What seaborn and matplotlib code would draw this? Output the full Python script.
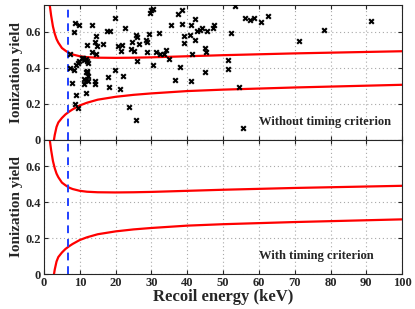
import numpy as np
import pandas as pd
import matplotlib
matplotlib.use('Agg')
import matplotlib.pyplot as plt
import seaborn as sns

# events (recoil energy keV, ionization yield) - top panel only
ev_energy = [8.65, 9.9, 8.4, 13.5, 19.8, 22.6, 14.6, 14.3, 12.1, 14.8, 16.4, 17.7, 18.3,
             13.4, 14.5, 7.4, 7.3, 8.5, 7.8, 8.8, 9.4, 9.7, 10.5, 11.0, 11.3, 11.7, 12.1,
             12.3, 11.9, 11.6, 12.1, 12.2, 11.2, 11.8, 12.2, 11.2, 14.2, 14.3, 8.9, 11.8,
             8.6, 9.5, 17.8, 18.1, 19.7, 21.2, 22.2, 20.8, 21.4, 21.8, 23.8, 25.8, 24.4,
             25.2, 24.7, 25.7, 25.9, 26.5, 25.9, 28.4, 28.7, 29.2, 28.7, 30.3, 29.6, 30.0,
             30.3, 32.2, 31.4, 32.3, 33.4, 34.1, 34.9, 35.4, 36.6, 38.1, 37.5, 38.4, 38.6,
             39.0, 39.1, 41.0, 41.4, 40.8, 41.1, 42.1, 42.2, 42.6, 43.6, 44.0, 45.0, 45.3,
             44.9, 45.4, 47.1, 47.6, 52.1, 53.4, 51.3, 51.4, 54.5, 55.6, 56.1, 57.4, 58.7,
             60.5, 62.6, 71.3, 78.1, 91.3]
ev_yield = [0.650, 0.641, 0.600, 0.637, 0.675, 0.624, 0.576, 0.544, 0.525, 0.520, 0.531,
            0.602, 0.607, 0.486, 0.477, 0.478, 0.400, 0.385, 0.316, 0.413, 0.428, 0.439,
            0.452, 0.452, 0.443, 0.447, 0.436, 0.426, 0.383, 0.374, 0.374, 0.355, 0.336,
            0.333, 0.325, 0.310, 0.325, 0.310, 0.247, 0.258, 0.200, 0.176, 0.351, 0.292,
            0.389, 0.284, 0.353, 0.520, 0.492, 0.525, 0.179, 0.110, 0.503, 0.492, 0.542,
            0.581, 0.570, 0.531, 0.439, 0.557, 0.544, 0.589, 0.490, 0.415, 0.707, 0.720,
            0.729, 0.591, 0.488, 0.479, 0.479, 0.497, 0.450, 0.636, 0.329, 0.406, 0.697,
            0.723, 0.643, 0.579, 0.538, 0.325, 0.479, 0.581, 0.637, 0.553, 0.673, 0.607,
            0.609, 0.619, 0.510, 0.486, 0.376, 0.604, 0.624, 0.639, 0.594, 0.744, 0.443,
            0.391, 0.292, 0.065, 0.675, 0.665, 0.679, 0.654, 0.686, 0.550, 0.611, 0.662]

# nuclear recoil band limits
up_energy = [1.4, 1.6, 2.0, 2.5, 3.0, 3.5, 4.0, 5.0, 6.0, 7.0, 8.0, 10, 12, 15, 20, 25,
             30, 40, 50, 60, 70, 80, 90, 100]
up_yield = [0.80, 0.75, 0.69, 0.63, 0.59, 0.56, 0.54, 0.51, 0.495, 0.482, 0.474, 0.464,
            0.459, 0.456, 0.455, 0.456, 0.458, 0.464, 0.470, 0.475, 0.480, 0.484, 0.488, 0.492]
low_energy = [2.6, 2.8, 3.0, 3.5, 4.0, 5.0, 6.0, 7.0, 8.0, 10, 12, 15, 20, 25, 30, 40,
              50, 60, 70, 80, 90, 100]
low_yield = [-0.05, 0.0, 0.025, 0.07, 0.095, 0.12, 0.14, 0.155, 0.168, 0.19, 0.205, 0.222,
             0.238, 0.249, 0.257, 0.27, 0.278, 0.284, 0.29, 0.295, 0.30, 0.305]

threshold = 6.8
panel_text = ['Without timing criterion', 'With timing criterion']

sns.set_style('ticks')
plt.rcParams['font.family'] = ['Liberation Serif', 'DejaVu Serif']
plt.rcParams['font.weight'] = 'bold'
plt.rcParams['axes.labelweight'] = 'bold'

events = pd.DataFrame({'energy': ev_energy, 'yield': ev_yield})
upper = pd.DataFrame({'energy': up_energy, 'yield': up_yield})
lower = pd.DataFrame({'energy': low_energy, 'yield': low_yield})

fig, axes = plt.subplots(2, 1, figsize=(4.15, 3.09), dpi=100, sharex=True)
fig.subplots_adjust(left=0.106, right=0.969, top=0.984, bottom=0.113, hspace=0)

for i, ax in enumerate(axes):
    ax.grid(True, color='#a8a8a8', linestyle=(0, (1, 2.5)), linewidth=0.8)
    sns.lineplot(data=upper, x='energy', y='yield', ax=ax, color='red', lw=1.6, sort=False)
    sns.lineplot(data=lower, x='energy', y='yield', ax=ax, color='red', lw=1.6, sort=False)
    ax.axvline(threshold, color='#2040ff', ls='--', lw=1.4, dashes=(4, 3))
    if i == 0:
        sns.scatterplot(data=events, x='energy', y='yield', ax=ax, marker='x', color='black',
                        s=11, linewidth=1.5, zorder=5)
    ax.text(60, 0.1, panel_text[i], fontsize=9, fontweight='bold', va='center', ha='left')
    ax.set_xlim(0, 100)
    ax.set_ylim(0, 0.75)
    ax.set_yticks([0, 0.2, 0.4, 0.6])
    ax.set_yticklabels(['0', '0.2', '0.4', '0.6'])
    ax.set_xticks(range(0, 101, 10))
    ax.set_ylabel('Ionization yield', fontsize=11, fontweight='bold', labelpad=2)
    ax.set_xlabel('')
    ax.tick_params(direction='in', top=True, right=True, labelsize=9, length=3, pad=2)
    for sp in ax.spines.values():
        sp.set_linewidth(0.8)

axes[1].set_xlabel('Recoil energy (keV)', fontsize=12, fontweight='bold', labelpad=0)

plt.savefig('out.png', dpi=100)
